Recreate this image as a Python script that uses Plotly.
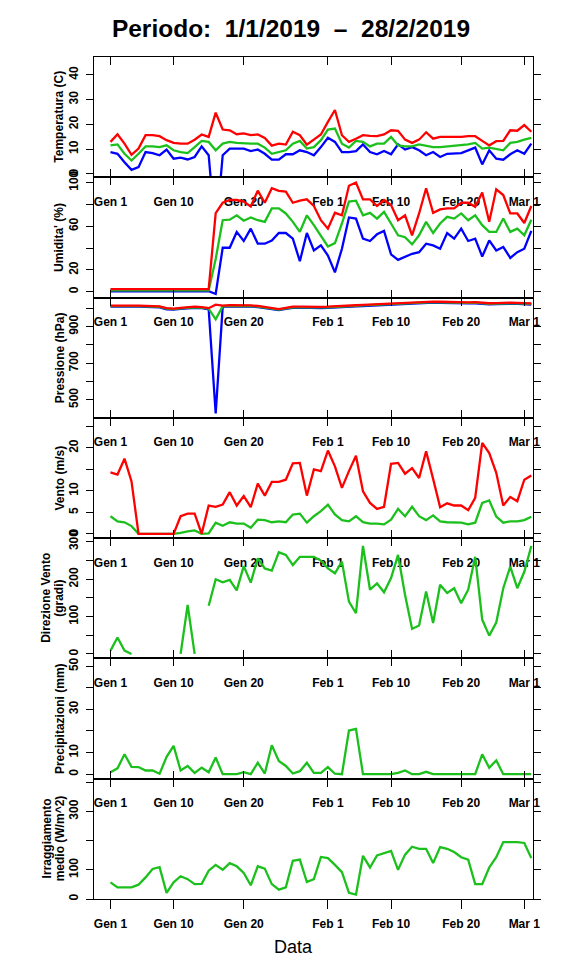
import pandas as pd
import plotly.graph_objects as go

# ---------------- data ----------------
dates = pd.date_range("2019-01-01", periods=61, freq="D")
tick_dates = ["2019-01-01", "2019-01-10", "2019-01-20", "2019-02-01",
              "2019-02-10", "2019-02-20", "2019-03-01"]
tick_labels = ["Gen 1", "Gen 10", "Gen 20", "Feb 1", "Feb 10", "Feb 20", "Mar 1"]

temp_max = [12.9, 16.0, 12.2, 7.7, 10.2, 15.6, 15.6, 15.2, 13.6, 12.5,
            12.2, 12.2, 13.8, 15.9, 14.9, 24.7, 17.9, 17.6, 16.0, 16.3,
            15.6, 15.9, 14.5, 11.4, 12.2, 11.8, 17.0, 15.6, 11.8, 13.8,
            15.9, 21.0, 25.8, 15.6, 12.9, 14.2, 15.6, 15.3, 15.2, 15.9,
            17.6, 17.4, 13.8, 12.5, 13.8, 16.8, 14.2, 14.9, 14.9, 14.6,
            14.9, 15.2, 15.2, 13.3, 11.5, 13.2, 13.3, 17.6, 17.4, 19.7,
            17.0]
temp_mean = [11.5, 11.9, 8.1, 5.4, 8.1, 11.1, 11.1, 10.8, 11.5, 9.5,
             8.8, 8.4, 10.8, 13.3, 12.9, 9.5, 12.2, 12.9, 12.5, 12.2,
             12.2, 12.2, 10.6, 8.1, 8.8, 9.5, 12.2, 13.3, 10.2, 10.8,
             13.6, 17.9, 18.3, 12.2, 10.6, 13.3, 12.9, 11.1, 12.2, 12.2,
             14.9, 11.5, 11.1, 11.1, 11.9, 11.5, 10.8, 10.8, 11.1, 11.1,
             11.5, 11.9, 12.5, 10.2, 10.6, 10.2, 9.5, 12.5, 12.9, 13.8,
             14.5]
temp_min = [8.8, 8.1, 4.7, 1.6, 2.7, 8.8, 8.4, 7.5, 9.8, 6.1,
            6.5, 5.8, 6.8, 11.1, 7.5, -25.0, 7.5, 10.2, 10.2, 10.2,
            9.2, 9.8, 8.1, 5.7, 5.7, 7.9, 7.9, 9.5, 8.8, 7.5,
            10.8, 14.6, 12.9, 8.8, 8.8, 9.2, 11.9, 8.8, 7.9, 9.2,
            7.9, 11.9, 9.8, 10.8, 9.5, 7.5, 8.8, 6.8, 8.1, 8.4,
            8.4, 9.5, 10.6, 3.8, 9.5, 6.1, 5.7, 7.9, 9.5, 8.1,
            12.2]

hum_max = [2.5, 2.5, 2.5, 2.5, 2.5, 2.5, 2.5, 2.5, 2.5, 2.5,
           2.5, 2.5, 2.5, 2.5, 2.5, 72.0, 81.5, 84.0, 84.0, 82.5,
           78.0, 92.6, 81.5, 94.8, 92.3, 91.7, 81.5, 83.4, 84.6, 78.5,
           65.5, 57.8, 72.3, 70.0, 97.0, 100.0, 84.6, 84.6, 78.5, 84.0,
           79.4, 65.5, 70.0, 51.7, 71.7, 94.8, 72.3, 75.4, 76.3, 76.3,
           81.5, 81.5, 77.8, 90.8, 64.0, 93.8, 88.6, 71.7, 71.7, 63.0,
           78.5]
hum_mean = [1.2, 1.2, 1.2, 1.2, 1.2, 1.2, 1.2, 1.2, 1.2, 1.2,
            1.2, 1.2, 1.2, 1.2, 1.2, 30.0, 65.5, 66.0, 70.0, 65.0,
            68.0, 65.5, 64.0, 76.3, 76.3, 71.7, 64.0, 54.8, 70.0, 61.0,
            51.7, 41.5, 44.6, 62.5, 82.5, 83.4, 70.0, 72.3, 67.0, 73.2,
            62.5, 51.7, 50.0, 43.4, 51.7, 64.0, 53.8, 62.5, 68.6, 67.0,
            71.7, 65.5, 70.0, 61.0, 54.8, 54.8, 67.0, 54.8, 57.8, 51.7,
            66.0]
hum_min = [0.5, 0.5, 0.5, 0.5, 0.5, 0.5, 0.5, 0.5, 0.5, 0.5,
           0.5, 0.5, 0.5, 0.5, 0.5, -2.0, 40.3, 40.3, 54.8, 46.5,
           57.8, 44.0, 44.0, 47.0, 53.8, 53.8, 48.6, 28.0, 53.8, 37.8,
           42.5, 33.2, 17.8, 39.4, 68.0, 67.0, 48.6, 46.5, 52.6, 55.7,
           34.2, 29.2, 31.7, 34.8, 36.3, 44.0, 42.5, 39.4, 53.8, 48.6,
           57.8, 46.5, 48.6, 32.3, 47.0, 37.8, 41.0, 31.0, 36.3, 39.4,
           55.7]

pres_max = [1015, 1016, 1016, 1015, 1015, 1014, 1013, 1011, 1001, 999,
            1003, 1007, 1009, 1007, 1001, 1020, 1015, 1017, 1018, 1017,
            1016, 1013, 1006, 999, 996, 1003, 1009, 1010, 1008, 1007,
            1008, 1009, 1010, 1012, 1015, 1017, 1019, 1021, 1023, 1025,
            1025, 1027, 1031, 1034, 1036, 1037, 1037, 1036, 1035, 1033,
            1031, 1033, 1034, 1030, 1028, 1029, 1031, 1031, 1030, 1028,
            1027]
pres_mean = [1012, 1013, 1013, 1012, 1012, 1011, 1010, 1008, 998, 996,
             1000, 1004, 1006, 1004, 998, 940, 1012, 1014, 1015, 1014,
             1013, 1010, 1003, 996, 993, 1000, 1006, 1007, 1005, 1004,
             1005, 1006, 1007, 1009, 1012, 1014, 1016, 1018, 1020, 1022,
             1022, 1024, 1028, 1031, 1033, 1034, 1034, 1033, 1032, 1030,
             1028, 1030, 1031, 1027, 1025, 1026, 1028, 1028, 1027, 1025,
             1024]
pres_min = [1009, 1010, 1010, 1009, 1009, 1008, 1007, 1005, 995, 993,
            997, 1001, 1003, 1001, 995, 425, 1009, 1011, 1012, 1011,
            1010, 1007, 1000, 993, 990, 997, 1003, 1004, 1002, 1001,
            1002, 1003, 1004, 1006, 1009, 1011, 1013, 1015, 1017, 1019,
            1019, 1021, 1025, 1028, 1030, 1031, 1031, 1030, 1029, 1027,
            1025, 1027, 1028, 1024, 1022, 1023, 1025, 1025, 1024, 1022,
            1021]

wind_max = [14.3, 13.8, 17.5, 12.2, 0, 0, 0, 0, 0, 0,
            4.1, 4.7, 4.7, 0, 6.6, 6.3, 6.8, 9.7, 6.6, 8.8,
            6.2, 11.7, 8.9, 12.1, 12.1, 12.6, 16.4, 16.5, 8.9, 15.0,
            14.6, 19.4, 15.7, 10.7, 14.6, 18.2, 9.9, 7.2, 5.8, 6.3,
            16.3, 16.5, 14.0, 15.3, 13.0, 19.2, 12.8, 6.2, 7.1, 6.6,
            6.6, 5.5, 8.4, 21.2, 18.8, 14.2, 6.6, 8.6, 7.6, 12.6,
            13.6]
wind_mean = [4.1, 2.9, 2.7, 1.8, 0, 0, 0, 0, 0, 0,
             0.2, 0.6, 0.8, 0, 0.1, 2.6, 1.9, 2.7, 2.4, 2.4,
             1.4, 3.3, 3.2, 2.7, 2.9, 2.7, 4.5, 4.7, 2.6, 4.1,
             5.3, 6.8, 4.5, 3.2, 2.9, 4.1, 2.7, 2.4, 2.4, 2.2,
             3.3, 5.8, 4.1, 6.3, 4.1, 3.2, 4.3, 2.9, 2.7, 2.6,
             2.6, 2.2, 2.6, 7.2, 7.8, 4.0, 2.6, 2.9, 2.9, 3.2,
             4.0]

wind_dir = [9, 44, 9, 0, None, None, None, None, None, None,
            0, 131, 0, None, 129, 200, 192, 198, 170, 235,
            191, 256, 229, 223, 272, 265, 238, 260, 260, 260,
            250, 229, 216, 247, 140, 109, 289, 172, 189, 165,
            203, 265, 158, 67, 76, 167, 83, 185, 163, 176,
            136, 172, 260, 92, 49, 84, 176, 234, 176, 220,
            289]

rain = [0.9, 2.7, 9.2, 3.4, 3.3, 1.7, 1.7, 0.2, 8.0, 13.1,
        1.7, 3.8, 0.6, 3.0, 0.9, 7.7, 0, 0, 0, 0.9,
        0, 5.3, 0.3, 13.4, 6.1, 3.8, 0.3, 1.4, 5.3, 0.6,
        0.6, 3.3, 0.2, 0, 20.2, 21.0, 0, 0, 0, 0,
        0, 0.6, 1.7, 0, 0, 1.1, 0, 0, 0, 0,
        0, 0, 0, 9.2, 3.0, 6.4, 0, 0, 0, 0,
        0]

irr = [57, 40, 40, 40, 49, 74, 103, 109, 21, 57,
       78, 68, 51, 52, 97, 117, 100, 123, 112, 89,
       47, 112, 104, 51, 32, 40, 131, 135, 58, 68,
       144, 140, 117, 92, 21, 15, 148, 108, 149, 157,
       165, 100, 152, 179, 172, 172, 123, 178, 172, 161,
       143, 135, 51, 51, 108, 143, 195, 195, 195, 192,
       140]

# y tick values / labels per panel
temp_ticks = [0, 10, 20, 30, 40]
temp_ticklabels = ["0", "10", "20", "30", "40"]
hum_ticks = [0, 20, 40, 60, 80, 100]
hum_ticklabels = ["0", "20", "", "60", "", "100"]
pres_ticks = [500, 600, 700, 800, 900, 1000]
pres_ticklabels = ["500", "", "700", "", "900", ""]
wind_ticks = [0, 5, 10, 15, 20, 25]
wind_ticklabels = ["0", "5", "10", "", "20", ""]
dir_ticks = [0, 50, 100, 150, 200, 250, 300]
dir_ticklabels = ["0", "", "100", "", "200", "", "300"]
rain_ticks = [0, 10, 20, 30, 40, 50]
rain_ticklabels = ["0", "10", "", "30", "", "50"]
irr_ticks = [0, 100, 200, 300, 400]
irr_ticklabels = ["0", "100", "", "300", ""]

# ---------------- styling ----------------
RED, GREEN, BLUE = "#FF0000", "#1CC01C", "#0000FF"
W, H = 576, 972
L, R, T, B = 93.5, 43.3, 57.3, 72.7
PW, PH = W - L - R, H - T - B
XR = ["2018-12-29 15:36", "2019-03-02 05:46"]
FONT = "Liberation Sans, Arial, Helvetica, sans-serif"

panels = [
    dict(series=[(temp_min, BLUE), (temp_mean, GREEN), (temp_max, RED)],
         rng=[-1.4, 47.2], tv=temp_ticks, tt=temp_ticklabels,
         title=["Temperatura (C)"]),
    dict(series=[(hum_min, BLUE), (hum_mean, GREEN), (hum_max, RED)],
         rng=[-5.3, 104.8], tv=hum_ticks, tt=hum_ticklabels,
         title=["Umidita' (%)"]),
    dict(series=[(pres_min, BLUE), (pres_mean, GREEN), (pres_max, RED)],
         rng=[401, 1059], tv=pres_ticks, tt=pres_ticklabels,
         title=["Pressione (hPa)"]),
    dict(series=[(wind_mean, GREEN), (wind_max, RED)],
         rng=[-1.0, 27.0], tv=wind_ticks, tt=wind_ticklabels,
         title=["Vento (m/s)"]),
    dict(series=[(wind_dir, GREEN)],
         rng=[-12, 310], tv=dir_ticks, tt=dir_ticklabels,
         title=["Direzione Vento", "(gradi)"]),
    dict(series=[(rain, GREEN)],
         rng=[-2.1, 53.6], tv=rain_ticks, tt=rain_ticklabels,
         title=["Precipitazioni (mm)"]),
    dict(series=[(irr, GREEN)],
         rng=[0, 412], tv=irr_ticks, tt=irr_ticklabels,
         title=["Irraggiamento", "medio (W/m^2)"]),
]

fig = go.Figure()
n = len(panels)
layout = {}
annotations = []
tickfont = dict(family=FONT, size=12, color="black", weight="bold")

for i, p in enumerate(panels):
    k = "" if i == 0 else str(i + 1)
    top = 1 - i / n
    bot = 1 - (i + 1) / n
    for vals, col in p["series"]:
        fig.add_trace(go.Scatter(x=dates, y=vals, mode="lines",
                                 line=dict(color=col, width=2.3),
                                 xaxis="x" + k, yaxis="y" + k,
                                 showlegend=False, hoverinfo="skip"))
    last = (i == n - 1)
    layout["xaxis" + k] = dict(
        type="date", range=XR, domain=[0, 1], anchor="y" + k,
        tickmode="array", tickvals=tick_dates, ticktext=tick_labels,
        showline=True, linecolor="black", linewidth=1,
        ticks="outside" if last else "inside", ticklen=9 if last else 8,
        tickwidth=1, tickcolor="black",
        mirror=True if last else "ticks",
        ticklabelstandoff=5 if last else 13,
        showgrid=False, zeroline=False, tickfont=tickfont, automargin=False)
    layout["yaxis" + k] = dict(
        domain=[bot, top], anchor="x" + k, range=p["rng"],
        tickmode="array", tickvals=p["tv"], ticktext=p["tt"],
        showline=True, linecolor="black", linewidth=1,
        ticks="outside", ticklen=7, tickwidth=1, tickcolor="black",
        mirror="ticks", tickangle=-90, ticklabelstandoff=3,
        showgrid=False, zeroline=False, tickfont=tickfont, automargin=False)
    # y-axis titles (one or two lines)
    lines = p["title"]
    xs = [59] if len(lines) == 1 else [46, 59]
    for txt, px in zip(lines, xs):
        annotations.append(dict(
            text=txt, xref="paper", yref="paper",
            x=(px - L) / PW, y=(top + bot) / 2,
            xanchor="center", yanchor="middle", textangle=-90,
            showarrow=False,
            font=dict(family=FONT, size=12, color="black", weight="bold")))

# extra axis: inward ticks at the top of the last panel
layout["xaxis8"] = dict(
    type="date", range=XR, overlaying="x7", anchor="y7", side="top",
    tickmode="array", tickvals=tick_dates, ticktext=tick_labels,
    showticklabels=False, showline=False, ticks="inside", ticklen=8,
    tickwidth=1, tickcolor="black", showgrid=False, zeroline=False)
fig.add_trace(go.Scatter(x=[dates[0]], y=[None], xaxis="x8", yaxis="y7",
                         showlegend=False, hoverinfo="skip"))

annotations.append(dict(
    text="Data", xref="paper", yref="paper",
    x=(293 - L) / PW, y=-(947 - (H - B)) / PH,
    xanchor="center", yanchor="middle", showarrow=False,
    font=dict(family=FONT, size=18, color="black")))

fig.update_layout(
    width=W, height=H,
    margin=dict(l=L, r=R, t=T, b=B, pad=0),
    paper_bgcolor="white", plot_bgcolor="white",
    title=dict(text="Periodo:\u00a0\u00a01/1/2019\u00a0\u00a0\u2013\u00a0\u00a028/2/2019",
               x=291 / W, y=1 - 28 / H, xanchor="center", yanchor="middle",
               font=dict(family=FONT, size=24.5, color="black", weight="bold")),
    annotations=annotations,
    **layout)

fig.write_html("out.html",
               config=dict(displayModeBar=False),
               post_script="document.body.style.margin='0px';"
                           "document.body.style.overflow='hidden';")
